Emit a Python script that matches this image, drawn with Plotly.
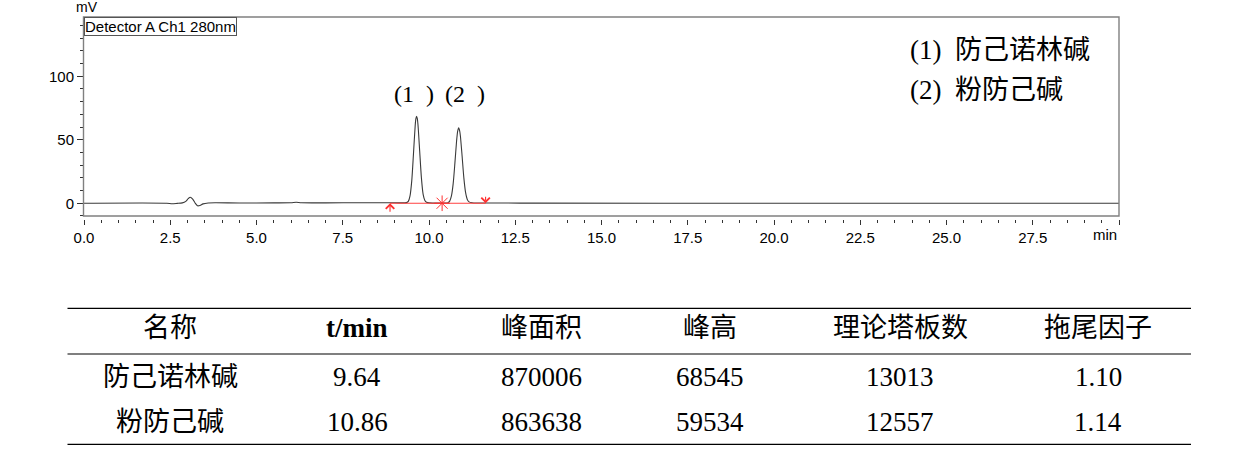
import plotly.graph_objects as go

# chromatogram trace (min, mV)
time_min = [0.0, 2.40, 2.55, 2.70, 2.85, 2.95, 3.02, 3.08, 3.15, 3.22, 3.29, 3.36, 3.45,
            3.60, 3.80, 4.50, 5.50, 6.00, 6.15, 6.30, 7.00, 8.00, 9.00, 9.30, 9.35,
            9.40, 9.45, 9.50, 9.55, 9.60, 9.62, 9.64, 9.66, 9.68, 9.73, 9.78, 9.83,
            9.88, 9.93, 10.00, 10.38, 10.50, 10.55, 10.60, 10.65, 10.70, 10.75, 10.80,
            10.83, 10.86, 10.89, 10.91, 10.96, 11.01, 11.06, 11.11, 11.16, 11.25, 11.40,
            12.00, 13.00, 20.00, 30.00]
signal_mv = [0.0, 0.0, -0.4, -0.1, 0.3, 1.5, 3.6, 4.7, 3.3, 0.2, -2.0, -1.8, -0.5,
             0.2, 0.4, 0.2, 0.3, 0.4, 0.8, 0.4, 0.3, 0.4, 0.4, 0.3, 0.5,
             1.5, 5.8, 17.6, 39.0, 61.3, 66.6, 68.5, 66.8, 62.0, 41.0, 20.0, 7.0,
             2.2, 0.8, 0.3, 0.1, 0.2, 0.5, 1.7, 5.8, 15.3, 31.4, 49.2,
             56.7, 59.5, 56.9, 53.0, 37.0, 20.0, 8.5, 3.0, 1.1, 0.4, 0.2,
             0.2, 0.1, 0.0, 0.0]

# integration events
event_times = [8.87, 10.38, 11.64]
event_level = [0.0, 0.0, 0.0]

# result table
headers = ["名称", "<b>t/min</b>", "峰面积", "峰高", "理论塔板数", "拖尾因子"]
names = ["防己诺林碱", "粉防己碱"]
ret_times = [9.64, 10.86]
areas = [870006, 863638]
heights = [68545, 59534]
plates = [13013, 12557]
tailing = [1.10, 1.14]

x_ticks = [0.0, 2.5, 5.0, 7.5, 10.0, 12.5, 15.0, 17.5, 20.0, 22.5, 25.0, 27.5, 30.0]
y_ticks = [0, 50, 100]

W, H = 1260, 451
L, R, T, B = 84, 1119, 17, 219  # plot area in pixels

SANS = "Liberation Sans, Arial, sans-serif"
SERIF = "Liberation Serif, Noto Sans CJK SC, serif"


def px_x(px):
    return (px - L) / (R - L)


def px_y(py):
    return (B - py) / (B - T)


fig = go.Figure()

fig.add_trace(go.Scatter(x=time_min, y=signal_mv, mode="lines",
                         line=dict(color="#3a3a3a", width=1.1, shape="spline", smoothing=0.7),
                         hoverinfo="skip", showlegend=False))

fig.add_trace(go.Scatter(x=[event_times[0], event_times[-1]], y=[event_level[0], event_level[-1]],
                         mode="lines", line=dict(color="#ff4040", width=1),
                         hoverinfo="skip", showlegend=False))

fig.add_trace(go.Scatter(x=[event_times[1]], y=[event_level[1]], mode="markers",
                         marker=dict(symbol="asterisk-open", size=13, color="#ff3030",
                                     line=dict(color="#ff3030", width=1)),
                         hoverinfo="skip", showlegend=False))

annotations = []
# start / end arrows
for t, lvl, ay in [(event_times[0], event_level[0], 10), (event_times[-1], event_level[-1], -8)]:
    annotations.append(dict(x=t, y=lvl, xref="x", yref="y", text="", showarrow=True,
                            ax=0, ay=ay, arrowhead=4, arrowsize=1.5, arrowwidth=1.1,
                            arrowcolor="#ff3030", standoff=0))

# peak labels
label_y = max(heights) / 1000 + 17.5
for i, (t, dx) in enumerate(zip(ret_times, [-3, 6.5])):
    annotations.append(dict(x=t, y=label_y, xref="x", yref="y", text=f"({i + 1}\u2002)",
                            showarrow=False, xshift=dx, yanchor="middle",
                            font=dict(family=SERIF, size=24, color="black")))

# legend text
for i, (name, py) in enumerate(zip(names, [50, 90])):
    annotations.append(dict(x=px_x(908), y=px_y(py), xref="paper", yref="paper",
                            text=f"({i + 1})\u00a0\u00a0{name}", showarrow=False,
                            xanchor="left", yanchor="middle",
                            font=dict(family=SERIF, size=27, color="black")))

annotations.append(dict(x=0, y=1, xref="paper", yref="paper", text="Detector A Ch1 280nm",
                        showarrow=False, xanchor="left", yanchor="top", bgcolor="white",
                        bordercolor="#555", borderwidth=1, borderpad=0,
                        font=dict(family=SANS, size=15, color="black")))
annotations.append(dict(x=px_x(86.5), y=1, xref="paper", yref="paper", text="mV",
                        showarrow=False, xanchor="center", yanchor="bottom",
                        font=dict(family=SANS, size=14, color="black")))
annotations.append(dict(x=1, y=px_y(234), xref="paper", yref="paper", text="min",
                        showarrow=False, xanchor="right", yanchor="middle",
                        font=dict(family=SANS, size=15, color="black")))

# table
col_px = [170, 357, 541, 710, 900, 1098]
rows = [[names[i], f"{ret_times[i]:.2f}", str(areas[i]), str(heights[i]),
         str(plates[i]), f"{tailing[i]:.2f}"] for i in range(len(names))]
for cells, py in zip([headers] + rows, [328, 377, 421.7]):
    for text, cx in zip(cells, col_px):
        annotations.append(dict(x=px_x(cx), y=px_y(py), xref="paper", yref="paper",
                                text=text, showarrow=False, xanchor="center", yanchor="middle",
                                font=dict(family=SERIF, size=27, color="black")))

shapes = [dict(type="rect", xref="paper", yref="paper", x0=px_x(83.5), x1=1,
               y0=px_y(216), y1=1, line=dict(color="#808080", width=1.4), layer="above")]
for py in [308.3, 354, 444.3]:
    shapes.append(dict(type="line", xref="paper", yref="paper", x0=px_x(67.5), x1=px_x(1191),
                       y0=px_y(py), y1=px_y(py), line=dict(color="black", width=1.2)))

fig.update_xaxes(range=[0, 30], tickmode="array", tickvals=x_ticks,
                 ticktext=[f"{v:.1f}" for v in x_ticks[:-1]] + [""],
                 ticks="outside", ticklen=5, tickwidth=1, tickcolor="#333",
                 minor=dict(dtick=0.5, tick0=0, ticks="outside", ticklen=3, tickwidth=1,
                            tickcolor="#333"),
                 showline=False, showgrid=False, zeroline=False,
                 tickfont=dict(family=SANS, size=15, color="black"))
fig.update_yaxes(range=[-12.4, 146.7], tickmode="array", tickvals=y_ticks,
                 ticks="outside", ticklen=6, tickwidth=1, tickcolor="#333",
                 minor=dict(dtick=10, tick0=0, ticks="outside", ticklen=3, tickwidth=1,
                            tickcolor="#333"),
                 showline=False, showgrid=False, zeroline=False,
                 tickfont=dict(family=SANS, size=15, color="black"))

fig.update_layout(width=W, height=H,
                  margin=dict(l=L, r=W - R, t=T, b=H - B),
                  paper_bgcolor="white", plot_bgcolor="white",
                  annotations=annotations, shapes=shapes, showlegend=False)

# drop the browser's default body margin so the figure sits at the page corner
fig.write_html("out.html", config={"displayModeBar": False},
               post_script="document.body.style.margin = '0px';")
